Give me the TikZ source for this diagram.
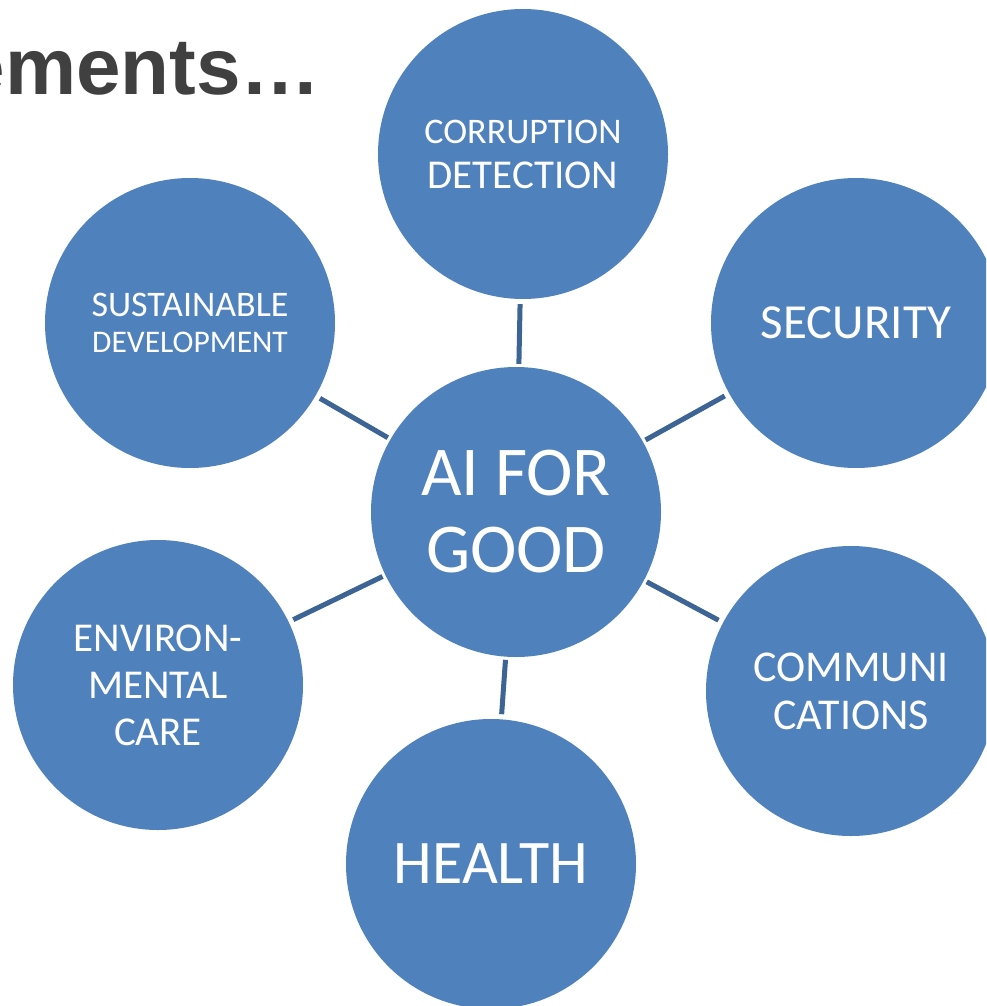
\documentclass[tikz,border=0pt]{standalone}
\usepackage{fontspec}
\usepackage{xcolor}
\usepackage{tikz}
\setmainfont{Carlito}
\newfontfamily\titlefont{Liberation Sans}
\definecolor{bubbleblue}{RGB}{79,129,189}
\definecolor{linkblue}{RGB}{60,100,148}
\definecolor{titlegray}{RGB}{64,64,64}

\begin{document}
\begin{tikzpicture}[x=1pt, y=-1pt,
        bubble/.style={circle, fill=bubbleblue, text=white, minimum size=290pt, inner sep=0pt, align=center},
        link/.style={draw=linkblue, line width=5pt, shorten <=3pt, shorten >=5pt}]
        % Fix the page
        \useasboundingbox (0,0) rectangle (986,1006);
        \clip (0,0) rectangle (986,1006);

        % Draw the title
        \node[anchor=base east, inner sep=0pt, text=titlegray, font=\titlefont\bfseries\fontsize{80}{96}\selectfont] (title) at (321,95) {ements…};

        % Draw the hub and the bubbles round it
        \node[bubble, font=\fontsize{70}{77}\selectfont] (hub) at (516,512) {AI FOR\\GOOD};
        \node[bubble, font=\fontsize{41}{45}\selectfont] (corruption) at (523,154) {{\fontsize{36}{45}\selectfont CORRUPTION}\\DETECTION};
        \node[bubble, font=\fontsize{49}{59}\selectfont] (security) at (856,323) {SECURITY};
        \node[bubble, font=\fontsize{44}{48}\selectfont] (communications) at (851,691) {COMMUNI\\CATIONS};
        \node[bubble, font=\fontsize{62}{74}\selectfont] (health) at (491,864) {HEALTH};
        \node[bubble, font=\fontsize{41}{47}\selectfont] (environmental) at (158,685) {ENVIRON-\\MENTAL\\CARE};
        \node[bubble, font=\fontsize{36}{36}\selectfont] (sustainable) at (190,323) {SUSTAINABLE\\{\fontsize{31.5}{36}\selectfont DEVELOPMENT}};

        % Draw the spokes
        \draw[link] (hub) -- (corruption);
        \draw[link] (hub) -- (security);
        \draw[link] (hub) -- (communications);
        \draw[link] (hub) -- (health);
        \draw[link] (hub) -- (environmental);
        \draw[link] (hub) -- (sustainable);

    \end{tikzpicture}
\end{document}
